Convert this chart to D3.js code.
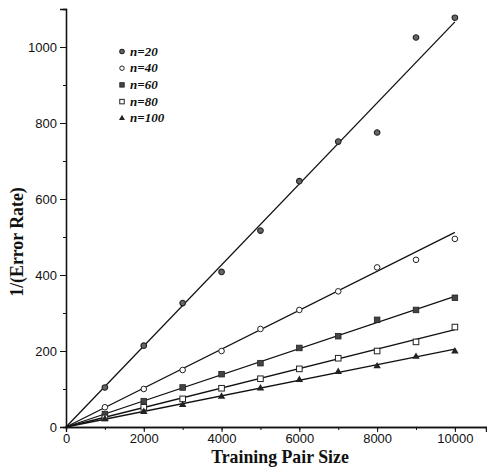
<!DOCTYPE html>
<html>
<head>
<meta charset="utf-8">
<script src="https://cdn.jsdelivr.net/npm/d3@7"></script>
<style>
body { margin: 0; background: #fff; }
.tick text { font-family: "Liberation Sans", Arial, sans-serif; font-size: 13px; fill: #111; }
.title { font-family: "Liberation Serif", "Times New Roman", serif; font-weight: bold; font-size: 17.8px; fill: #111; }
.leg { font-family: "Liberation Serif", serif; font-weight: bold; font-style: italic; font-size: 13px; fill: #111; }
</style>
</head>
<body>
<div id="chart"></div>
<script>
// training pair sizes
var sizes = [1000, 2000, 3000, 4000, 5000, 6000, 7000, 8000, 9000, 10000]
var seriesNames = ['n=20', 'n=40', 'n=60', 'n=80', 'n=100']
// 1/(error rate) readings
var n20  = [104, 214, 326, 408, 517, 647, 751, 775, 1025, 1077]
var n40  = [52, 100, 150, 200, 258, 308, 357, 420, 440, 495]
var n60  = [34, 68, 104, 139, 168, 208, 239, 282, 308, 340]
var n80  = [24, 52, 74, 102, 127, 153, 181, 200, 224, 263]
var n100 = [21, 40, 58, 80, 102, 124, 145, 160, 185, 199]
// slopes of the fitted lines through the origin
var fitSlopes = [0.1066, 0.0512, 0.0344, 0.0256, 0.0205]
var xTicks = [0, 2000, 4000, 6000, 8000, 10000]
var yTicks = [0, 200, 400, 600, 800, 1000]

var allSeries = [n20, n40, n60, n80, n100]
var width = 487, height = 467

var svg = d3.select('#chart').append('svg')
    .attr('width', width)
    .attr('height', height)

var x = d3.scaleLinear().domain([0, 10800]).range([66, 486])
var y = d3.scaleLinear().domain([0, 1100]).range([427, 9])

// axes
svg.append('g')
    .attr('transform', 'translate(0,' + y(0) + ')')
    .call(d3.axisBottom(x).tickValues(d3.range(0, 10801, 1000)).tickSize(3).tickFormat(''))
svg.append('g')
    .attr('transform', 'translate(0,' + y(0) + ')')
    .call(d3.axisBottom(x).tickValues(xTicks).tickSize(5).tickPadding(2).tickFormat(d3.format('d')))
svg.append('g')
    .attr('transform', 'translate(' + x(0) + ',0)')
    .call(d3.axisLeft(y).tickValues(d3.range(0, 1101, 100)).tickSize(3).tickFormat(''))
svg.append('g')
    .attr('transform', 'translate(' + x(0) + ',0)')
    .call(d3.axisLeft(y).tickValues(yTicks).tickSize(6).tickPadding(3).tickFormat(d3.format('d')))

svg.selectAll('.domain').attr('stroke', '#111').attr('stroke-width', 1.3)
svg.selectAll('.tick line').attr('stroke', '#111')

// fitted lines
svg.selectAll('.fit')
    .data(fitSlopes)
    .enter()
    .append('line')
    .attr('class', 'fit')
    .attr('x1', x(0))
    .attr('y1', y(0))
    .attr('x2', x(10000))
    .attr('y2', function (d) { return y(d * 10000) })
    .attr('stroke', '#111')
    .attr('stroke-width', 1.3)

function drawMarker(g, k, s) {
    var r = 2.8 * s
    if (k == 0) {
        g.append('circle').attr('r', r).attr('fill', '#666').attr('stroke', '#222').attr('stroke-width', 1.1)
    } else if (k == 1) {
        g.append('circle').attr('r', r).attr('fill', '#fff').attr('stroke', '#222').attr('stroke-width', 1)
    } else if (k == 2) {
        g.append('rect').attr('x', -r).attr('y', -r).attr('width', 2 * r).attr('height', 2 * r)
            .attr('fill', '#444').attr('stroke', '#222').attr('stroke-width', 0.8)
    } else if (k == 3) {
        g.append('rect').attr('x', -r).attr('y', -r).attr('width', 2 * r).attr('height', 2 * r)
            .attr('fill', '#fff').attr('stroke', '#222').attr('stroke-width', 1)
    } else {
        g.append('path').attr('d', d3.symbol().type(d3.symbolTriangle).size(24 * s * s))
            .attr('fill', '#222')
    }
}

allSeries.forEach(function (vals, k) {
    vals.forEach(function (v, i) {
        var g = svg.append('g')
            .attr('transform', 'translate(' + x(sizes[i]) + ',' + y(v) + ')')
        drawMarker(g, k, 1)
    })
})

// legend
seriesNames.forEach(function (name, k) {
    var ly = 51.5 + k * 16.7
    var g = svg.append('g').attr('transform', 'translate(122,' + ly + ')')
    drawMarker(g, k, 0.8)
    svg.append('text')
        .attr('class', 'leg')
        .attr('x', 130)
        .attr('y', ly + 4)
        .text(name)
})

// titles
svg.append('text')
    .attr('class', 'title')
    .attr('x', 280)
    .attr('y', 463)
    .attr('text-anchor', 'middle')
    .text('Training Pair Size')

svg.append('text')
    .attr('class', 'title')
    .attr('transform', 'translate(23,242) rotate(-90)')
    .attr('text-anchor', 'middle')
    .text('1/(Error Rate)')
</script>
</body>
</html>
